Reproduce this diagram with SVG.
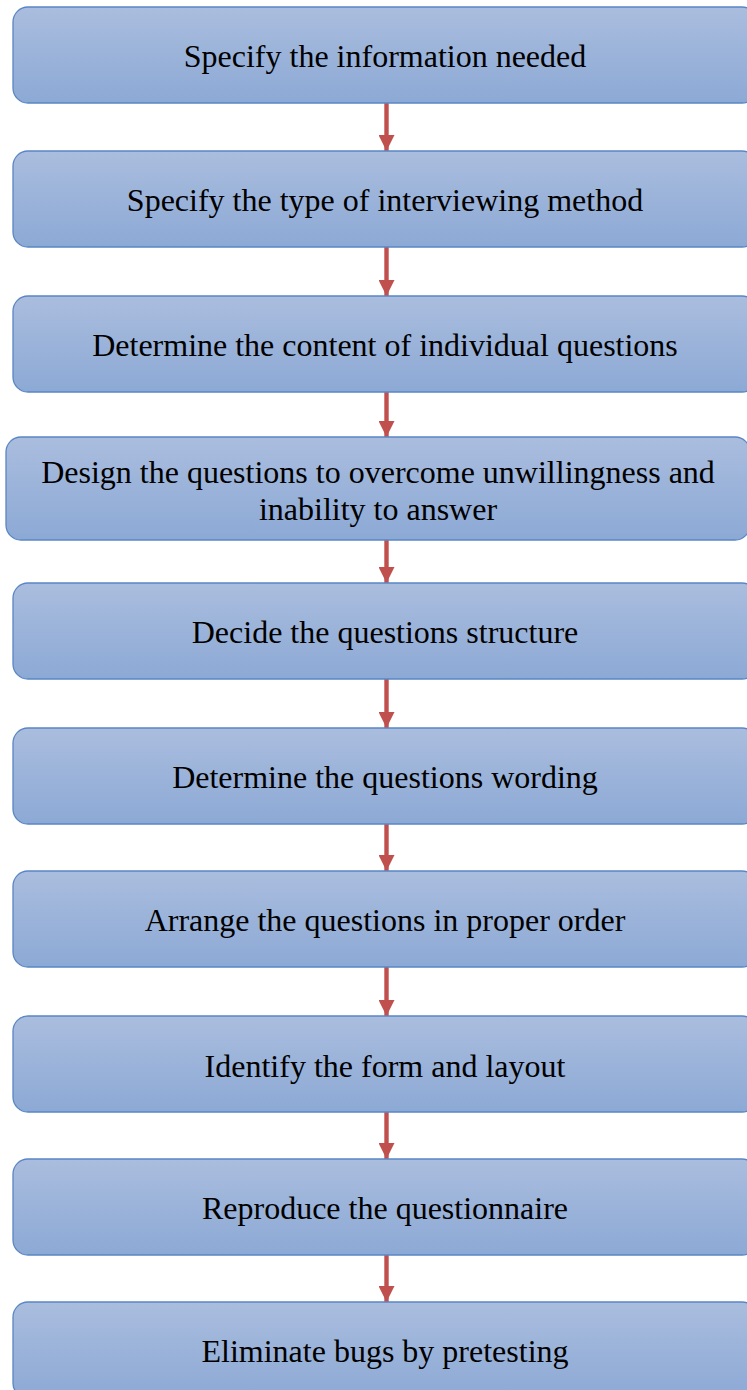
<svg xmlns="http://www.w3.org/2000/svg" width="747" height="1390" viewBox="0 0 747 1390">
  <defs>
    <linearGradient id="boxFill" x1="0" y1="0" x2="0" y2="1">
      <stop offset="0" stop-color="#aabdde"/>
      <stop offset="1" stop-color="#8ca9d5"/>
    </linearGradient>
    <marker id="arrowHead" viewBox="0 0 16 16" refX="16" refY="8" markerWidth="16" markerHeight="16" markerUnits="userSpaceOnUse" orient="auto">
      <path d="M0,0 L16,8 L0,16 Z" fill="#c0504d"/>
    </marker>
  </defs>
  <style>
    .box { fill: url(#boxFill); stroke: #5a86c4; stroke-width: 1.3; }
    .label { font-family: "Liberation Serif", "Times New Roman", serif; font-size: 32px; fill: #000; text-anchor: middle; }
    .conn { stroke: #c0504d; stroke-width: 4.4; fill: none; marker-end: url(#arrowHead); }
  </style>

  <rect x="0" y="0" width="747" height="1390" fill="#ffffff"/>

  <!-- connectors between consecutive steps -->
  <g id="connectors">
    <line class="conn" x1="386.5" y1="103" x2="386.5" y2="151"/>
    <line class="conn" x1="386.5" y1="247" x2="386.5" y2="296"/>
    <line class="conn" x1="386.5" y1="392" x2="386.5" y2="437"/>
    <line class="conn" x1="386.5" y1="540" x2="386.5" y2="583"/>
    <line class="conn" x1="386.5" y1="679" x2="386.5" y2="728"/>
    <line class="conn" x1="386.5" y1="824" x2="386.5" y2="871"/>
    <line class="conn" x1="386.5" y1="967" x2="386.5" y2="1016"/>
    <line class="conn" x1="386.5" y1="1112" x2="386.5" y2="1159"/>
    <line class="conn" x1="386.5" y1="1255" x2="386.5" y2="1302"/>
  </g>

  <g id="step1">
    <rect class="box" x="13" y="7" width="744" height="96" rx="15"/>
    <text class="label" x="385" y="67">Specify the information needed</text>
  </g>
  <g id="step2">
    <rect class="box" x="13" y="151" width="744" height="96" rx="15"/>
    <text class="label" x="385" y="211">Specify the type of interviewing method</text>
  </g>
  <g id="step3">
    <rect class="box" x="13" y="296" width="744" height="96" rx="15"/>
    <text class="label" x="385" y="356">Determine the content of individual questions</text>
  </g>
  <g id="step4">
    <rect class="box" x="6" y="437" width="744" height="103" rx="15"/>
    <text class="label" x="378" y="483">Design the questions to overcome unwillingness and</text>
    <text class="label" x="378" y="520">inability to answer</text>
  </g>
  <g id="step5">
    <rect class="box" x="13" y="583" width="744" height="96" rx="15"/>
    <text class="label" x="385" y="643">Decide the questions structure</text>
  </g>
  <g id="step6">
    <rect class="box" x="13" y="728" width="744" height="96" rx="15"/>
    <text class="label" x="385" y="788">Determine the questions wording</text>
  </g>
  <g id="step7">
    <rect class="box" x="13" y="871" width="744" height="96" rx="15"/>
    <text class="label" x="385" y="931">Arrange the questions in proper order</text>
  </g>
  <g id="step8">
    <rect class="box" x="13" y="1016" width="744" height="96" rx="15"/>
    <text class="label" x="385" y="1077">Identify the form and layout</text>
  </g>
  <g id="step9">
    <rect class="box" x="13" y="1159" width="744" height="96" rx="15"/>
    <text class="label" x="385" y="1219">Reproduce the questionnaire</text>
  </g>
  <g id="step10">
    <rect class="box" x="13" y="1302" width="744" height="96" rx="15"/>
    <text class="label" x="385" y="1362">Eliminate bugs by pretesting</text>
  </g>
</svg>
